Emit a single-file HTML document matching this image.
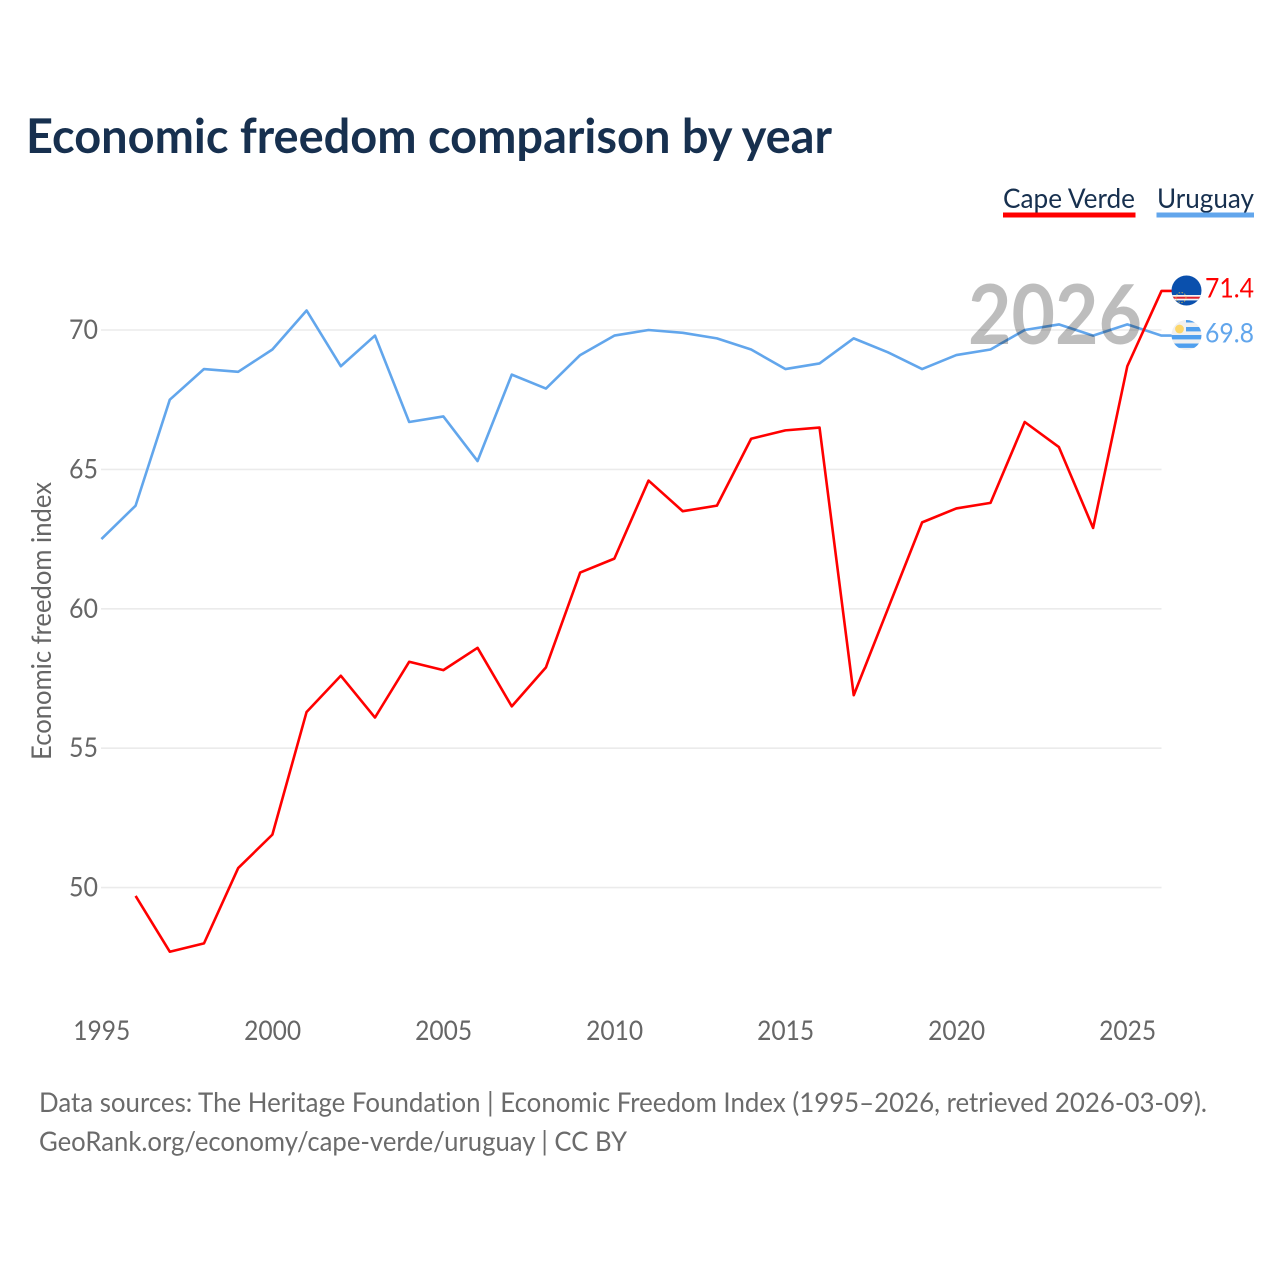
<!DOCTYPE html>
<html lang="en">
<head>
<meta charset="utf-8">
<title>Economic freedom comparison by year</title>
<style>
html,body{margin:0;padding:0;background:#fff;width:1280px;height:1280px;overflow:hidden}
svg{display:block}
text{font-family:"Lato","Carlito","Liberation Sans",sans-serif;font-variant-ligatures:none}
</style>
</head>
<body>
<svg id="chart" xmlns="http://www.w3.org/2000/svg" width="1280" height="1280" viewBox="0 0 1280 1280">
  <defs>
    <clipPath id="clip-cv"><circle id="clip-cv-circle" cx="1186.5" cy="290.5" r="15"></circle></clipPath>
    <clipPath id="clip-uy"><circle id="clip-uy-circle" cx="1186.5" cy="335" r="15"></circle></clipPath>
  </defs>
  <rect width="1280" height="1280" fill="#ffffff"></rect>
  <text x="26" y="153" font-size="48" font-weight="700" fill="#17304f" textLength="806" lengthAdjust="spacingAndGlyphs">Economic freedom comparison by year</text>

  <g>
    <g>
      <text x="1003" y="208" font-size="27" fill="#17304f" textLength="132" lengthAdjust="spacingAndGlyphs">Cape Verde</text>
      <rect x="1003" y="212.5" width="132.5" height="5" fill="#ff0000"></rect>
    </g>
    <g>
      <text x="1157" y="208" font-size="27" fill="#17304f" textLength="97" lengthAdjust="spacingAndGlyphs">Uruguay</text>
      <rect x="1156.5" y="212.5" width="97.5" height="5" fill="#62a6ec"></rect>
    </g>
  </g>

  <g id="grid"></g>
  <g id="y-ticks"></g>
  <g id="x-ticks"></g>
  <text transform="translate(51,760) rotate(-90)" x="0" y="0" font-size="27" fill="#666666" textLength="278" lengthAdjust="spacingAndGlyphs">Economic freedom index</text>
  <g id="series"></g>
  <text id="year-label" x="968" y="344" font-size="82" font-weight="700" fill="#000000" fill-opacity="0.26" textLength="174" lengthAdjust="spacingAndGlyphs">2026</text>

  <g id="flag-cv" clip-path="url(#clip-cv)">
    <rect x="1171" y="275" width="31" height="32" fill="#0a50ad"></rect>
    <rect x="1171" y="295" width="31" height="5.4" fill="#f4f4f4"></rect>
    <rect x="1171" y="296.7" width="31" height="2" fill="#e0202c"></rect>
    <circle cx="1181" cy="297.5" r="5" fill="none" stroke="#e0bb50" stroke-width="1" stroke-dasharray="1.5 1.5" opacity="0.8"></circle>
  </g>
  <g id="flag-uy" clip-path="url(#clip-uy)">
    <rect x="1171" y="319" width="31" height="32" fill="#f0f0f0"></rect>
    <rect x="1186" y="319.5" width="16" height="3" fill="#4f9fee"></rect>
    <rect x="1186" y="327" width="16" height="4.4" fill="#4f9fee"></rect>
    <rect x="1171" y="335" width="31" height="4.4" fill="#4f9fee"></rect>
    <rect x="1171" y="343.5" width="31" height="4.4" fill="#4f9fee"></rect>
    <circle cx="1179.5" cy="329" r="4.4" fill="#fcd669"></circle>
  </g>

  <g id="end-labels"></g>

  <g>
    <text x="39" y="1112" font-size="27" fill="#6b6b6b" textLength="1168" lengthAdjust="spacingAndGlyphs">Data sources: The Heritage Foundation | Economic Freedom Index (1995–2026, retrieved 2026-03-09).</text>
    <text x="39" y="1151" font-size="27" fill="#6b6b6b" textLength="588" lengthAdjust="spacingAndGlyphs">GeoRank.org/economy/cape-verde/uruguay | CC BY</text>
  </g>
</svg>
<script>
var years = [1995,1996,1997,1998,1999,2000,2001,2002,2003,2004,2005,2006,2007,2008,2009,2010,2011,2012,2013,2014,2015,2016,2017,2018,2019,2020,2021,2022,2023,2024,2025,2026];
var capeVerde = [null,49.7,47.7,48.0,50.7,51.9,56.3,57.6,56.1,58.1,57.8,58.6,56.5,57.9,61.3,61.8,64.6,63.5,63.7,66.1,66.4,66.5,56.9,60.0,63.1,63.6,63.8,66.7,65.8,62.9,68.7,71.4];
var uruguay = [62.5,63.7,67.5,68.6,68.5,69.3,70.7,68.7,69.8,66.7,66.9,65.3,68.4,67.9,69.1,69.8,70.0,69.9,69.7,69.3,68.6,68.8,69.7,69.2,68.6,69.1,69.3,70.0,70.2,69.8,70.2,69.8];
var yTicks = [50,55,60,65,70];
var xTicks = [1995,2000,2005,2010,2015,2020,2025];

var NS = 'http://www.w3.org/2000/svg';
function xScale(year){ return 101.4 + (year - 1995) * (1161.5 - 101.4) / 31; }
function yScale(value){ return 330 + (70 - value) * 27.88; }
function make(tag, parent, attrs){
  var el = document.createElementNS(NS, tag);
  Object.keys(attrs).forEach(function(k){ el.setAttribute(k, attrs[k]); });
  parent.appendChild(el);
  return el;
}

var gridGroup = document.getElementById('grid');
var yTickGroup = document.getElementById('y-ticks');
var xTickGroup = document.getElementById('x-ticks');
var seriesGroup = document.getElementById('series');
var labelGroup = document.getElementById('end-labels');

yTicks.forEach(function(t){
  var line = make('line', gridGroup, {x1: 101, x2: 1161.5, y1: yScale(t), y2: yScale(t), stroke: '#ebebeb', 'stroke-width': 1.6});
  
  
  var label = make('text', yTickGroup, {x: 98, y: yScale(t) + 9, 'text-anchor': 'end', 'font-size': 27, fill: '#666666'});
  
  
  label.setAttribute('textLength', 29);
  label.setAttribute('lengthAdjust', 'spacingAndGlyphs');
  label.textContent = t;
});

xTicks.forEach(function(t){
  var label = make('text', xTickGroup, {x: xScale(t) + 0.3, y: 1040, 'text-anchor': 'middle', 'font-size': 27, fill: '#666666'});
  
  
  label.setAttribute('textLength', 57);
  label.setAttribute('lengthAdjust', 'spacingAndGlyphs');
  label.textContent = t;
});

function linePath(values){
  var d = '';
  var pen = false;
  values.forEach(function(v, i){
    if (v === null) { pen = false; return; }
    d += (pen ? 'L' : 'M') + xScale(years[i]).toFixed(2) + ' ' + yScale(v).toFixed(2);
    pen = true;
  });
  var last = values[values.length - 1];
  d += 'L1172 ' + yScale(last).toFixed(2);
  return d;
}

var uruguayLine = make('path', seriesGroup, {d: linePath(uruguay), fill: 'none', stroke: '#62a6ec', 'stroke-width': 2.6, 'stroke-linejoin': 'round'});



var capeVerdeLine = make('path', seriesGroup, {d: linePath(capeVerde), fill: 'none', stroke: '#ff0000', 'stroke-width': 2.6, 'stroke-linejoin': 'round'});



var cvLast = capeVerde[capeVerde.length - 1];
var uyLast = uruguay[uruguay.length - 1];

var cvLabel = make('text', labelGroup, {x: 1254, y: yScale(cvLast) + 6.5, 'text-anchor': 'end', 'font-size': 27, fill: '#ff0000'});


cvLabel.setAttribute('textLength', 49);
cvLabel.setAttribute('lengthAdjust', 'spacingAndGlyphs');
cvLabel.textContent = cvLast.toFixed(1);

var uyLabel = make('text', labelGroup, {x: 1254, y: yScale(uyLast) + 7, 'text-anchor': 'end', 'font-size': 27, fill: '#62a6ec'});


uyLabel.setAttribute('textLength', 49);
uyLabel.setAttribute('lengthAdjust', 'spacingAndGlyphs');
uyLabel.textContent = uyLast.toFixed(1);
</script>
</body>
</html>
